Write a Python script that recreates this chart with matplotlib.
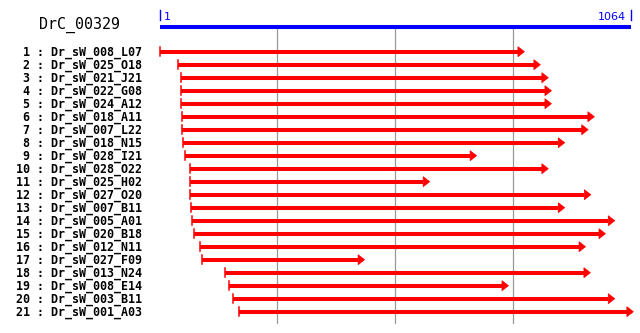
import matplotlib
matplotlib.use("Agg")
import matplotlib.pyplot as plt
import matplotlib.transforms as mtransforms

# --- data -------------------------------------------------------------
gene_name = "DrC_00329"
gene_length = 1064
grid_marks = [266, 532, 798]

read_names = [
    "Dr_sW_008_L07", "Dr_sW_025_O18", "Dr_sW_021_J21", "Dr_sW_022_G08",
    "Dr_sW_024_A12", "Dr_sW_018_A11", "Dr_sW_007_L22", "Dr_sW_018_N15",
    "Dr_sW_028_I21", "Dr_sW_028_O22", "Dr_sW_025_H02", "Dr_sW_027_O20",
    "Dr_sW_007_B11", "Dr_sW_005_A01", "Dr_sW_020_B18", "Dr_sW_012_N11",
    "Dr_sW_027_F09", "Dr_sW_013_N24", "Dr_sW_008_E14", "Dr_sW_003_B11",
    "Dr_sW_001_A03",
]
read_start = [1, 42, 48, 48, 48, 51, 51, 53, 57, 69, 69, 69, 71, 73, 78,
              91, 96, 148, 157, 166, 180]
read_end = [824, 860, 878, 885, 885, 982, 968, 915, 716, 878, 610, 974,
            915, 1028, 1007, 962, 463, 973, 788, 1028, 1070]

# --- layout (pixels of a 640x333 image) --------------------------------
W, H = 640, 333
x_first, x_last = 160.0, 630.7          # pixel of position 1 / gene_length
row1_px, row_step = 51.7, 13.0          # pixel y of row 1, row spacing
k = (x_last - x_first) / (gene_length - 1)   # pixels per base


def row_of(py):
    return 1 + (py - row1_px) / row_step


fig = plt.figure(figsize=(W / 100, H / 100), dpi=100)
ax = fig.add_axes([0, 0, 1, 1])
ax.set_xlim(1 - x_first / k, gene_length + (W - x_last) / k)
ax.set_ylim(row_of(H), row_of(0))
ax.axis("off")

RED = "#ff0000"
BLUE = "#0000ff"
mono = "DejaVu Sans Mono"
lab_tr = mtransforms.blended_transform_factory(ax.transAxes, ax.transData)

# title
ax.text(39 / W, row_of(28.3), gene_name, family=mono, fontsize=10.8,
        va="baseline", ha="left", transform=lab_tr)

# gene ruler
ax.plot([1, gene_length], [row_of(27)] * 2, color=BLUE, lw=2.9,
        solid_capstyle="butt")
ax.plot([1, 1], [row_of(10), row_of(20)], color=BLUE, lw=1.0)
ax.plot([gene_length] * 2, [row_of(10), row_of(20)], color=BLUE, lw=1.0)
ax.text(1 + 4 / k, row_of(19.5), "1", color=BLUE, fontsize=8,
        va="baseline", ha="left")
ax.text(gene_length - 5 / k, row_of(19.5), str(gene_length), color=BLUE,
        fontsize=8, va="baseline", ha="right")

# grid lines
for g in grid_marks:
    ax.plot([g, g], [row_of(29), row_of(323)], color="#999999", lw=0.9,
            zorder=1)

# reads
head_len = 6.5 / k
head_half = 5 / row_step
tick_half = 4.5 / row_step
for i, (name, s, e) in enumerate(zip(read_names, read_start, read_end)):
    r = i + 1
    ax.text(16 / W, r + 4.3 / row_step, f"{r:2d} : {name}", family=mono,
            fontweight="bold", fontsize=8.4, va="baseline", ha="left",
            transform=lab_tr)
    ax.plot([s, e - head_len], [r, r], color=RED, lw=2.9,
            solid_capstyle="butt", zorder=3)
    ax.plot([s, s], [r - tick_half, r + tick_half], color=RED, lw=1.1,
            zorder=3)
    ax.fill([e - head_len, e, e - head_len],
            [r - head_half, r, r + head_half], color=RED, lw=0.5,
            edgecolor=RED, zorder=3)

fig.savefig("out.png", dpi=100, facecolor="white")
